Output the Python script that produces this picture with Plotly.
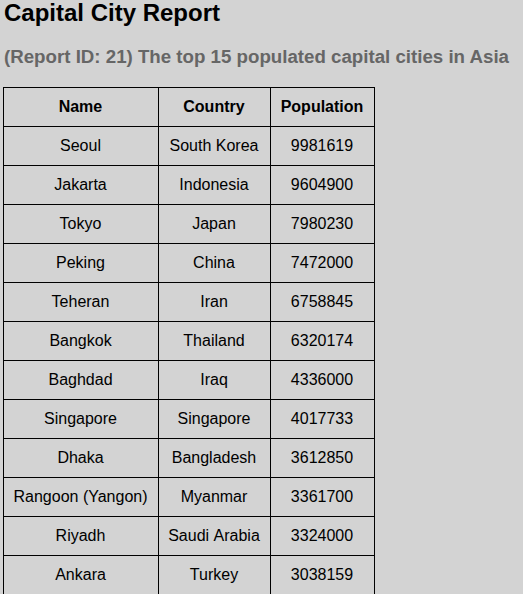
import plotly.graph_objects as go

# visible rows of the report table
names = ['Seoul', 'Jakarta', 'Tokyo', 'Peking', 'Teheran', 'Bangkok', 'Baghdad',
         'Singapore', 'Dhaka', 'Rangoon (Yangon)', 'Riyadh', 'Ankara']
countries = ['South Korea', 'Indonesia', 'Japan', 'China', 'Iran', 'Thailand', 'Iraq',
             'Singapore', 'Bangladesh', 'Myanmar', 'Saudi Arabia', 'Turkey']
populations = [9981619, 9604900, 7980230, 7472000, 6758845, 6320174, 4336000,
               4017733, 3612850, 3361700, 3324000, 3038159]
headers = ['Name', 'Country', 'Population']

W, H = 523, 594
BG = '#d3d3d3'
FONT = 'Arial, Liberation Sans, sans-serif'
TOP = 87      # px from top where the table starts
SHIFT = 3     # plotly puts text near the top of a cell, push it down to look centred

# keep multi-word cells on one line
nb = lambda s: s.replace(' ', '\u00a0')
col_values = [[nb(n) for n in names], [nb(c) for c in countries], [str(p) for p in populations]]

fig = go.Figure()

# grid only
fig.add_trace(go.Table(
    domain=dict(x=[3 / W, 374 / W], y=[0, 1 - TOP / H]),
    columnwidth=[155, 112, 104],
    header=dict(values=['', '', ''], fill_color=BG, line=dict(color='black', width=1), height=39),
    cells=dict(values=[[''] * len(names)] * 3, fill_color=BG,
               line=dict(color='black', width=1), height=39),
))

# text only, nudged down (header a bit taller so body rows still land 5px low)
fig.add_trace(go.Table(
    domain=dict(x=[3 / W, 374 / W], y=[0, 1 - (TOP + SHIFT) / H]),
    columnwidth=[155, 112, 104],
    header=dict(
        values=[f'<b>{h}</b>' for h in headers],
        fill_color='rgba(0,0,0,0)',
        line=dict(color='rgba(0,0,0,0)', width=0),
        align='center', height=41,
        font=dict(family=FONT, size=16, color='black'),
    ),
    cells=dict(
        values=col_values,
        fill_color='rgba(0,0,0,0)',
        line=dict(color='rgba(0,0,0,0)', width=0),
        align='center', height=39,
        font=dict(family=FONT, size=16, color='black'),
    ),
))

fig.update_layout(
    width=W, height=H,
    margin=dict(l=0, r=0, t=0, b=0),
    paper_bgcolor=BG,
    plot_bgcolor=BG,
    annotations=[
        dict(text='<b>Capital City Report</b>', x=2 / W, y=1 - 13 / H,
             xref='paper', yref='paper', xanchor='left', yanchor='middle',
             showarrow=False, font=dict(family=FONT, size=24, color='black')),
        dict(text='<b>(Report ID: 21) The top 15 populated capital cities in Asia</b>',
             x=2 / W, y=1 - 56 / H, xref='paper', yref='paper',
             xanchor='left', yanchor='middle', showarrow=False,
             font=dict(family=FONT, size=18.7, color='#666666')),
    ],
)

fig.write_html("out.html", config={'displayModeBar': False},
               post_script="document.body.style.margin='0';document.body.style.background='#d3d3d3';")
